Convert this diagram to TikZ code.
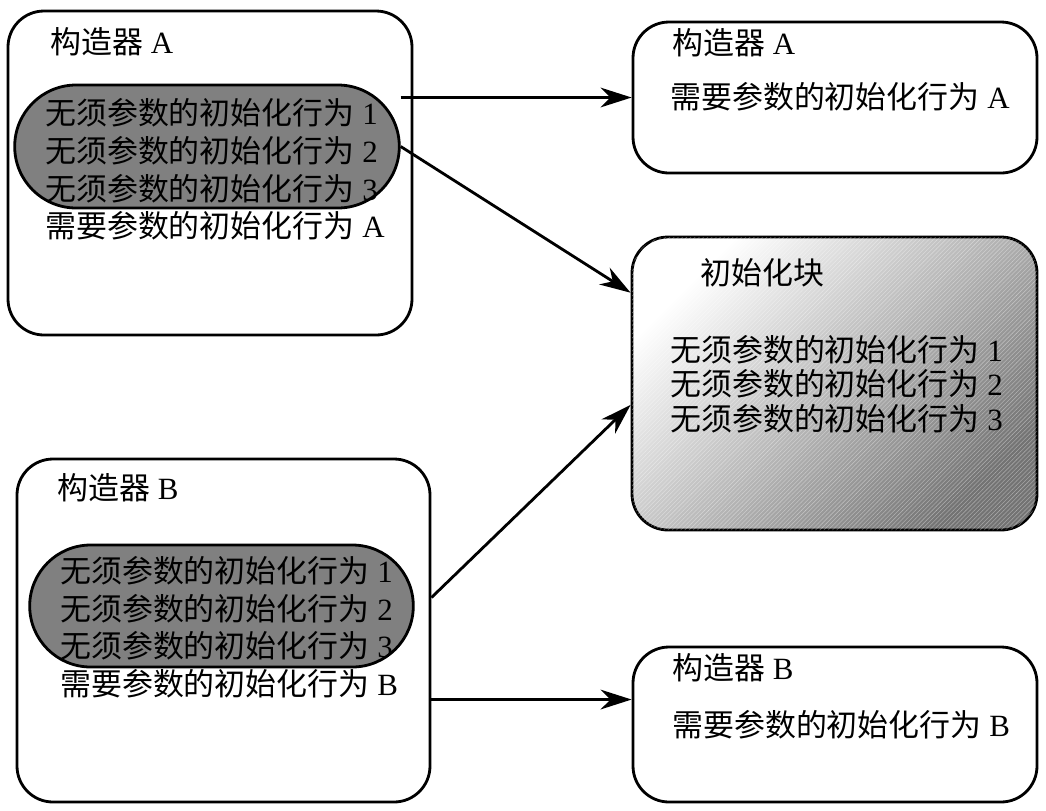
\documentclass[tikz,border=0pt]{standalone}
\usepackage{fontspec}
\setmainfont{Liberation Serif}
\newfontfamily\cjk{Noto Sans CJK SC}
\newcommand{\zh}[1]{{\cjk #1}}
\newcommand{\freeLine}[1]{\zh{无须参数的初始化行为} #1}
\newcommand{\argLine}[1]{\zh{需要参数的初始化行为} #1}
\usepackage{tikz}
\usetikzlibrary{arrows.meta, shapes.misc, patterns}

\begin{document}
\begin{tikzpicture}[
    >=Stealth,
    % Constructor boxes (white)
    ctorBox/.style={
        rectangle, rounded corners=0.9cm,
        draw=black, fill=white,
        line width=2pt
    },
    % Grey pill with the shared lines
    pillBox/.style={
        rounded rectangle,
        draw=black, fill=gray,
        line width=2pt
    },
    % Shaded initialiser block
    initBox/.style={
        rectangle, rounded corners=0.9cm,
        draw=black, line width=2pt,
        top color=white, bottom color=black!55, shading angle=45,
        postaction={pattern=north east lines, pattern color=white, opacity=0.35}
    },
    % Left aligned text
    txt/.style={
        anchor=west, align=left, inner sep=0pt,
        font=\fontsize{22pt}{26.7pt}\selectfont
    },
    arr/.style={
        -{Stealth[length=22pt, width=14pt, inset=7pt]},
        line width=2pt, draw=black
    }
]
\useasboundingbox (0,0) rectangle (26.15,-20.25);
% ── Constructor A (left) ─────────────────────────────────────
\node[ctorBox, minimum width=10.1cm, minimum height=8.1cm] (boxA) at (5.25,-4.325) {};
\node[pillBox, minimum width=9.85cm, minimum height=3.075cm] (pillA) at (5.175,-3.6625) {};
\node[txt] (titleA) at (1.25,-1.05) {\zh{构造器} A};
\node[txt] (linesA) at (1.125,-4.2375)
    {\freeLine{1}\\ \freeLine{2}\\ \freeLine{3}\\ \argLine{A}};
% ── Constructor B (left) ─────────────────────────────────────
\node[ctorBox, minimum width=10.325cm, minimum height=8.575cm] (boxB) at (5.5875,-15.7625) {};
\node[pillBox, minimum width=9.825cm, minimum height=3.05cm] (pillB) at (5.5375,-15.15) {};
\node[txt] (titleB) at (1.425,-12.2) {\zh{构造器} B};
\node[txt] (linesB) at (1.5,-15.675)
    {\freeLine{1}\\ \freeLine{2}\\ \freeLine{3}\\ \argLine{B}};
% ── Right column ─────────────────────────────────────────────
\node[ctorBox, minimum width=10.1cm, minimum height=3.775cm] (boxAp) at (20.875,-2.4375) {};
\node[txt] (titleAp) at (16.8,-1.075) {\zh{构造器} A};
\node[txt] (argAp) at (16.75,-2.425) {\argLine{A}};
\node[initBox, minimum width=10.125cm, minimum height=7.325cm] (init) at (20.8625,-9.5875) {};
\node[txt] (titleInit) at (17.5,-6.825) {\zh{初始化块}};
\node[txt, font=\fontsize{22pt}{24.5pt}\selectfont] (linesInit) at (16.75,-9.6)
    {\freeLine{1}\\ \freeLine{2}\\ \freeLine{3}};
\node[ctorBox, minimum width=10.1cm, minimum height=3.875cm] (boxBp) at (20.875,-18.1125) {};
\node[txt] (titleBp) at (16.8,-16.7) {\zh{构造器} B};
\node[txt] (argBp) at (16.8,-18.125) {\argLine{B}};
% ── Arrows ───────────────────────────────────────────────────
\draw[arr] (pillA.east |- boxAp.west) -- (boxAp.west);
\draw[arr] (pillA.east) -- (init.156);
\draw[arr] (boxB.9) -- (init.186);
\draw[arr] (boxB.east |- boxBp.173) -- (boxBp.173);
\end{tikzpicture}
\end{document}
